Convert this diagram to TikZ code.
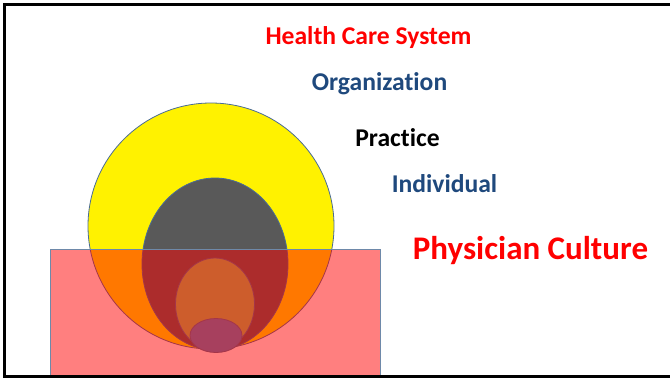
\documentclass[tikz,border=0pt]{standalone}
\usepackage{fontspec}
\setmainfont[Ligatures=NoCommon]{Carlito}
\definecolor{outl}{HTML}{4A6C94}
\definecolor{lvlblue}{HTML}{1F497D}
\definecolor{lvlgreen}{HTML}{9BBB59}
\definecolor{lvlsky}{HTML}{4F81BD}
\definecolor{midgray}{HTML}{595959}
\begin{document}
\begin{tikzpicture}[x=1pt, y=-1pt,
    level/.style={draw=outl, line width=0.8pt},
    tag/.style={anchor=base, font=\bfseries\fontsize{25.6}{28}\selectfont}]
    \useasboundingbox (0,0) rectangle (670,378);
    \fill[white] (0,0) rectangle (670,378);

    % Nested levels, all touching at the bottom
    \draw[level, fill=yellow] (211,226) circle [radius=123];
    \draw[level, fill=midgray] (215,264) ellipse [x radius=73, y radius=86];
    \draw[level, fill=lvlgreen] (215,304) ellipse [x radius=39.5, y radius=46];
    \draw[level, fill=lvlsky] (216,335.5) ellipse [x radius=26, y radius=17];

    % Culture layer laid over the lower half
    \draw[draw=outl!80, line width=1pt, fill=red, fill opacity=0.5] (50.5,376) -- (50.5,249) -- (380,249) -- (380,376);

    % Labels
    \node[tag, text=red] (hcs) at (368.5,44.5) {Health Care System};
    \node[tag, text=lvlblue] (org) at (379.5,90.5) {Organization};
    \node[tag, text=black] (prac) at (397.5,146.5) {Practice};
    \node[tag, text=lvlblue] (indiv) at (444.5,192.5) {Individual};
    \node[tag, text=red, font=\bfseries\fontsize{33}{36}\selectfont] (cult) at (530.5,259.5) {Physician Culture};

    % Slide frame
    \draw[line width=3pt] (690,4.5) -- (4.5,4.5) -- (4.5,376) -- (690,376);
\end{tikzpicture}
\end{document}
